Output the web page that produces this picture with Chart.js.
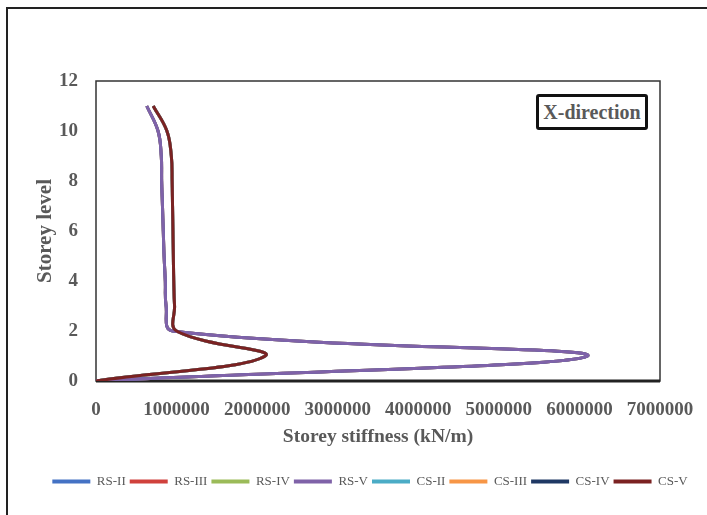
<!DOCTYPE html>
<html>
<head>
<meta charset="utf-8">
<script src="https://cdn.jsdelivr.net/npm/chart.js@4.4.0/dist/chart.umd.min.js"></script>
<style>
  html, body { margin: 0; padding: 0; background: #fff; overflow: hidden; }
  #wrap { position: relative; width: 707px; height: 515px; overflow: hidden; }
  #frame { position: absolute; left: 6px; top: 7px; width: 760px; height: 560px; border: 2px solid #222; }
  #chart { position: absolute; left: 0; top: 0; }
  #tag {
    position: absolute; left: 536px; top: 94px; width: 112px; height: 36px;
    box-sizing: border-box; border: 3px solid #111; border-radius: 3px; background: #fff;
    font: bold 20px "Liberation Serif", serif; color: #595959; text-align: center; line-height: 30px;
  }
</style>
</head>
<body>
<div id="wrap">
  <div id="frame"></div>
  <canvas id="chart" width="740" height="515"></canvas>
  <div id="tag">X-direction</div>
</div>
<script>
const storeyLevels = [0, 1, 2, 3, 4, 5, 6, 7, 8, 9, 10, 11];
// the RS curves lie on top of each other in the picture, as do the CS curves
const rsStiffness = [0, 6100000, 950000, 870000, 860000, 845000, 835000, 825000, 815000, 810000, 770000, 630000];
const csStiffness = [0, 2100000, 1000000, 975000, 965000, 960000, 955000, 950000, 945000, 935000, 880000, 710000];
const seriesNames = ['RS-II', 'RS-III', 'RS-IV', 'RS-V', 'CS-II', 'CS-III', 'CS-IV', 'CS-V'];
const seriesValues = [rsStiffness, rsStiffness, rsStiffness, rsStiffness, csStiffness, csStiffness, csStiffness, csStiffness];
const seriesColors = ['#4472c4', '#d0413c', '#9bbb59', '#7f62a8', '#4bacc6', '#f79646', '#1f3864', '#7b2222'];
const xTicks = [0, 1000000, 2000000, 3000000, 4000000, 5000000, 6000000, 7000000];
const yTicks = [0, 2, 4, 6, 8, 10, 12];

const grey = '#595959';
const serif = '"Liberation Serif", "Times New Roman", serif';

// RS-V and CS-V are the ones visible on top
const drawOrder = { 'CS-V': 0, 'RS-V': 1 };

const datasets = seriesNames.map((name, i) => ({
  label: name,
  data: storeyLevels.map((lvl, j) => ({ x: seriesValues[i][j], y: lvl })),
  borderColor: seriesColors[i],
  backgroundColor: seriesColors[i],
  order: name in drawOrder ? drawOrder[name] : 2
}));

const plotFrame = {
  id: 'plotFrame',
  afterLayout(chart) {
    // legend sits a bit right of the canvas middle in the original
    chart.legend.left += 40;
    chart.legend.right += 40;
  },
  beforeDatasetsDraw(chart) {
    const { ctx, chartArea: a } = chart;
    ctx.save();
    ctx.strokeStyle = '#333';
    ctx.lineWidth = 1.5;
    ctx.strokeRect(a.left, a.top, a.right - a.left, a.bottom - a.top);
    ctx.strokeStyle = '#222';
    ctx.lineWidth = 3;
    ctx.beginPath();
    ctx.moveTo(a.left, a.bottom);
    ctx.lineTo(a.right, a.bottom);
    ctx.stroke();
    ctx.restore();
  }
};

new Chart(document.getElementById('chart'), {
  type: 'line',
  data: { datasets },
  plugins: [plotFrame],
  options: {
    responsive: false,
    animation: false,
    layout: { padding: { top: 81, right: 80, bottom: 17, left: 0 } },
    elements: {
      point: { radius: 0 },
      line: { borderWidth: 3, tension: 0.4 }
    },
    plugins: {
      tooltip: { enabled: false },
      legend: {
        position: 'bottom',
        labels: {
          boxWidth: 38,
          boxHeight: 4,
          padding: 4,
          color: grey,
          font: { family: serif, size: 13 },
          sort: (a, b) => a.datasetIndex - b.datasetIndex,
          generateLabels: (chart) => Chart.defaults.plugins.legend.labels.generateLabels(chart)
            .map(l => ({ ...l, lineWidth: 0, fillStyle: l.strokeStyle }))
        }
      }
    },
    scales: {
      x: {
        type: 'linear',
        min: xTicks[0],
        max: xTicks[xTicks.length - 1],
        afterBuildTicks: s => { s.ticks = xTicks.map(v => ({ value: v })); },
        afterFit: s => { s.height = 90; },
        ticks: {
          padding: 18, maxRotation: 0, autoSkip: false, color: grey,
          font: { family: serif, size: 19, weight: 'bold' },
          callback: v => String(v)
        },
        grid: { display: false, drawTicks: false },
        border: { display: false },
        title: {
          display: true, text: 'Storey stiffness (kN/m)', color: grey,
          font: { family: serif, size: 19.5, weight: 'bold' },
          padding: { top: 8, bottom: 22 }
        }
      },
      y: {
        type: 'linear',
        min: yTicks[0],
        max: yTicks[yTicks.length - 1],
        afterBuildTicks: s => { s.ticks = yTicks.map(v => ({ value: v })); },
        afterFit: s => { s.width = 96; },
        ticks: {
          padding: 18, color: grey,
          font: { family: serif, size: 19, weight: 'bold' }
        },
        grid: { display: false, drawTicks: false },
        border: { display: false },
        title: {
          display: true, text: 'Storey level', color: grey,
          font: { family: serif, size: 21, weight: 'bold' },
          padding: { top: 33, bottom: 0 }
        }
      }
    }
  }
});
</script>
</body>
</html>
